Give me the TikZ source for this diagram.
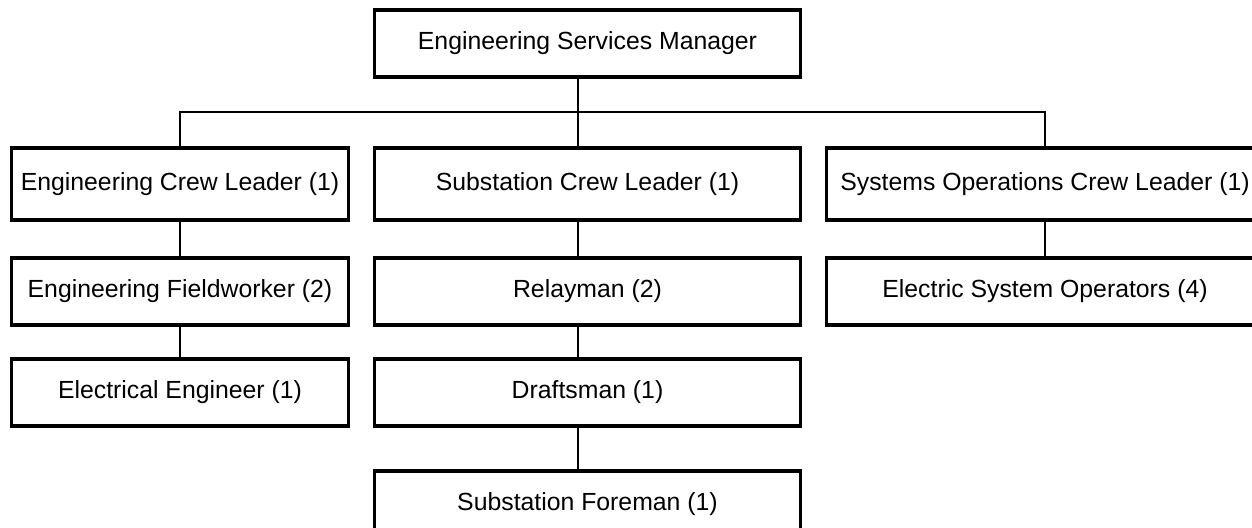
\documentclass[tikz,border=0pt]{standalone}
\usepackage{fontspec}
\setmainfont{Liberation Sans}
\usepackage{tikz}
\usetikzlibrary{positioning}
\tikzstyle{post} = [draw, rectangle, line width=1.7pt, fill=white, inner sep=0pt,
minimum height=33.5pt, font=\fontsize{12.4}{15}\selectfont]
\tikzstyle{line} = [draw, line width=1pt]

\begin{document}
\begin{tikzpicture}[x=0.5pt, y=-0.5pt,
	narrow/.style={post, minimum width=168.5pt},
	wide/.style={post, minimum width=213pt},
	widest/.style={post, minimum width=218.5pt}]
	\useasboundingbox (0,0) rectangle (1252,527);
	\node[wide] (esm) at (587.5,43.5) {Engineering Services Manager};
	%% row 1
	\node[narrow, minimum height=36pt] (ecl) at (180,184) {Engineering Crew Leader (1)};
	\node[wide, minimum height=36pt] (scl) at (587.5,184) {Substation Crew Leader (1)};
	\node[widest, minimum height=36pt] (socl) at (1045,184) {Systems Operations Crew Leader (1)};
	%% rows below
	\node[narrow] (efw) at (180,291.5) {Engineering Fieldworker (2)};
	\node[wide] (relay) at (587.5,291.5) {Relayman (2)};
	\node[widest] (eso) at (1045,291.5) {Electric System Operators (4)};
	\node[narrow] (ee) at (180,392.5) {Electrical Engineer (1)};
	\node[wide] (draft) at (587.5,392.5) {Draftsman (1)};
	\node[wide] (sfm) at (587.5,504.5) {Substation Foreman (1)};
	%% Links
	\coordinate (bus) at (578,112);
	\path [line] (esm.south -| bus) -- (bus);
	\path [line] (ecl.north) |- (bus) -| (socl.north);
	\path [line] (bus) -- (scl.north -| bus);
	\path [line] (ecl) -- (efw);
	\path [line] (efw) -- (ee);
	\path [line] (scl.south -| bus) -- (relay.north -| bus);
	\path [line] (relay.south -| bus) -- (draft.north -| bus);
	\path [line] (draft.south -| bus) -- (sfm.north -| bus);
	\path [line] (socl) -- (eso);
\end{tikzpicture}
\end{document}
